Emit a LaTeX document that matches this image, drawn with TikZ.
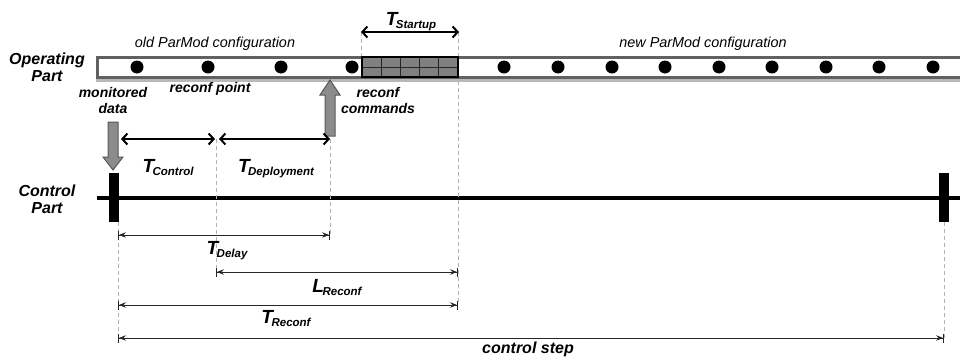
\documentclass[tikz,border=0pt]{standalone}
\usepackage{fontspec}
\setmainfont{Liberation Sans}
\usetikzlibrary{arrows.meta}
\tikzset{
  % --- operating part --------------------------------------------------------
  pipe/.style={draw=black!62,line width=3pt,fill=white},
  pipeshade/.style={draw=black!28,line width=4.5pt},
  dot/.style={circle,fill=black,inner sep=0pt,minimum size=13pt},
  cell/.style={fill=black!50,draw=black!85,line width=1pt},
  bootbox/.style={draw,line width=2pt,inner sep=0pt,minimum width=96pt,
                  minimum height=20pt},
  % --- control part ----------------------------------------------------------
  ctrlline/.style={line width=4pt,black},
  ctrlmark/.style={rectangle,fill=black,inner sep=0pt,minimum width=10pt,
                   minimum height=49pt},
  fatarrow/.style={fill=black!45,draw=black!65,line width=1pt,line join=miter},
  % --- intervals -------------------------------------------------------------
  span/.style={{Straight Barb[length=5pt,width=11pt]}-{Straight Barb[length=5pt,width=11pt]},
               line width=2pt},
  dim/.style={{Bar[width=9pt]Stealth[length=7pt,width=5.5pt,inset=2.5pt]}-%
              {Stealth[length=7pt,width=5.5pt,inset=2.5pt]Bar[width=9pt]},
              line width=0.9pt,black!85},
  guide/.style={black!30,line width=0.8pt,dash pattern=on 4pt off 3pt},
  % --- text ------------------------------------------------------------------
  partlab/.style={font=\fontsize{16}{17}\selectfont\bfseries\itshape,align=center},
  notelab/.style={font=\fontsize{14}{16}\selectfont\bfseries\itshape,align=center},
  conflab/.style={font=\fontsize{14.4}{16}\selectfont\itshape,anchor=base},
  tlab/.style={anchor=base,inner sep=0pt},
}
% big letter with a small lowered index, e.g. T_Control
\newcommand\tname[2]{{\fontsize{19}{19}\selectfont\bfseries\itshape #1}\kern-1.5pt%
  \raisebox{-3pt}{\fontsize{11.5}{12}\selectfont\bfseries\itshape #2}}

\begin{document}
\begin{tikzpicture}[x=1pt,y=-1pt]
  \useasboundingbox (0,0) rectangle (960,359);

  % instants on the control line
  \coordinate (t0) at (118,198);   % monitored data
  \coordinate (tc) at (216,198);   % reconf point
  \coordinate (td) at (330,198);   % reconf commands
  \coordinate (te) at (458,198);   % new configuration up
  \coordinate (tn) at (944,198);   % next control step
  \coordinate (cl) at (97,198);
  \coordinate (cr) at (965,198);
  % rows of the interval arrows
  \coordinate (yStart) at (0,32);
  \coordinate (yCtrl)  at (0,139);
  \coordinate (yDelay) at (0,235);
  \coordinate (yLat)   at (0,272);
  \coordinate (yRec)   at (0,305);
  \coordinate (yStep)  at (0,338);

  % control part
  \draw[ctrlline] (cl) -- (cr);
  \node[ctrlmark] (m0) at (114,197.5) {};
  \node[ctrlmark] (m1) at (944,197.5) {};
  \node[partlab] (cpart) at (47,199) {Control\\Part};

  % startup box, placed first so the guides can hang from it
  \node[bootbox] (boot) at (410,67) {};

  % dashed guides
  \draw[guide] (boot.north west |- yStart) -- (boot.north west);
  \draw[guide] (te |- yStart) -- (te |- yRec);
  \draw[guide] (tc |- yCtrl) -- (tc |- yLat);
  \draw[guide] (td |- yCtrl) -- (td |- yDelay);
  \draw[guide] (t0 |- m0.south) -- (t0 |- yStep);
  \draw[guide] (tn |- m1.south) -- (tn |- yStep);

  % operating part: pipe with its reconf points
  \draw[pipeshade] (98,60) rectangle (965,80);
  \draw[pipe] (97,57) rectangle (965,77);
  \foreach \i in {0,...,4}{
    \foreach \j in {0,1}{
      \draw[cell] ({362+19.2*\i},{57+10*\j}) rectangle ++(19.2,10);
    }
  }
  \node[bootbox] at (boot) {};
  \foreach \x [count=\k] in {137,208,281,352}
    \node[dot] (old\k) at (\x,67) {};
  \foreach \x [count=\k] in {504,558,612,665,719,772,826,879,933}
    \node[dot] (new\k) at (\x,67) {};
  \node[partlab] (opart) at (47,67) {Operating\\Part};
  \node[conflab] (oldcfg) at (215,47) {old ParMod configuration};
  \node[conflab] (newcfg) at (703,47) {new ParMod configuration};

  % T_Startup
  \draw[span] (boot.north west |- yStart) -- (boot.north east |- yStart);
  \node[tlab] (lstart) at (411,25) {\tname{T}{Startup}};

  % monitored data in, reconf commands out
  \draw[fatarrow] (108,122) -- (118,122) -- (118,157) -- (123,157) -- (113,170)
                  -- (103,157) -- (108,157) -- cycle;
  \draw[fatarrow] (325,136) -- (335,136) -- (335,95) -- (340,95) -- (330,80)
                  -- (320,95) -- (325,95) -- cycle;
  \node[notelab,anchor=base] (mdata) at (113,97) {monitored};
  \node[notelab,anchor=base] (mdata2) at (113,113) {data};
  \node[notelab,anchor=base] (rpoint) at (210,92) {reconf point};
  \node[notelab,anchor=base] (rcmd) at (378,97) {reconf};
  \node[notelab,anchor=base] (rcmd2) at (378,113) {commands};

  % T_Control and T_Deployment
  \draw[span,shorten <=3pt,shorten >=1pt] (t0 |- yCtrl) -- (tc |- yCtrl);
  \draw[span,shorten <=3pt] (tc |- yCtrl) -- (td |- yCtrl);
  \node[tlab] (lctrl) at (168,172) {\tname{T}{Control}};
  \node[tlab] (ldepl) at (276,172) {\tname{T}{Deployment}};

  % delay, latency, reconfiguration and control step
  \draw[dim] (t0 |- yDelay) -- (td |- yDelay);
  \node[tlab] (ldelay) at (227,254) {\tname{T}{Delay}};
  \draw[dim] (tc |- yLat) -- (te |- yLat);
  \node[tlab] (llat) at (337,292) {\tname{L}{Reconf}};
  \draw[dim] (t0 |- yRec) -- (te |- yRec);
  \node[tlab] (lrec) at (286,323) {\tname{T}{Reconf}};
  \draw[dim] (t0 |- yStep) -- (tn |- yStep);
  \node[tlab,font=\fontsize{16}{16}\selectfont\bfseries\itshape] (lstep)
       at (528,353) {control step};
\end{tikzpicture}
\end{document}
